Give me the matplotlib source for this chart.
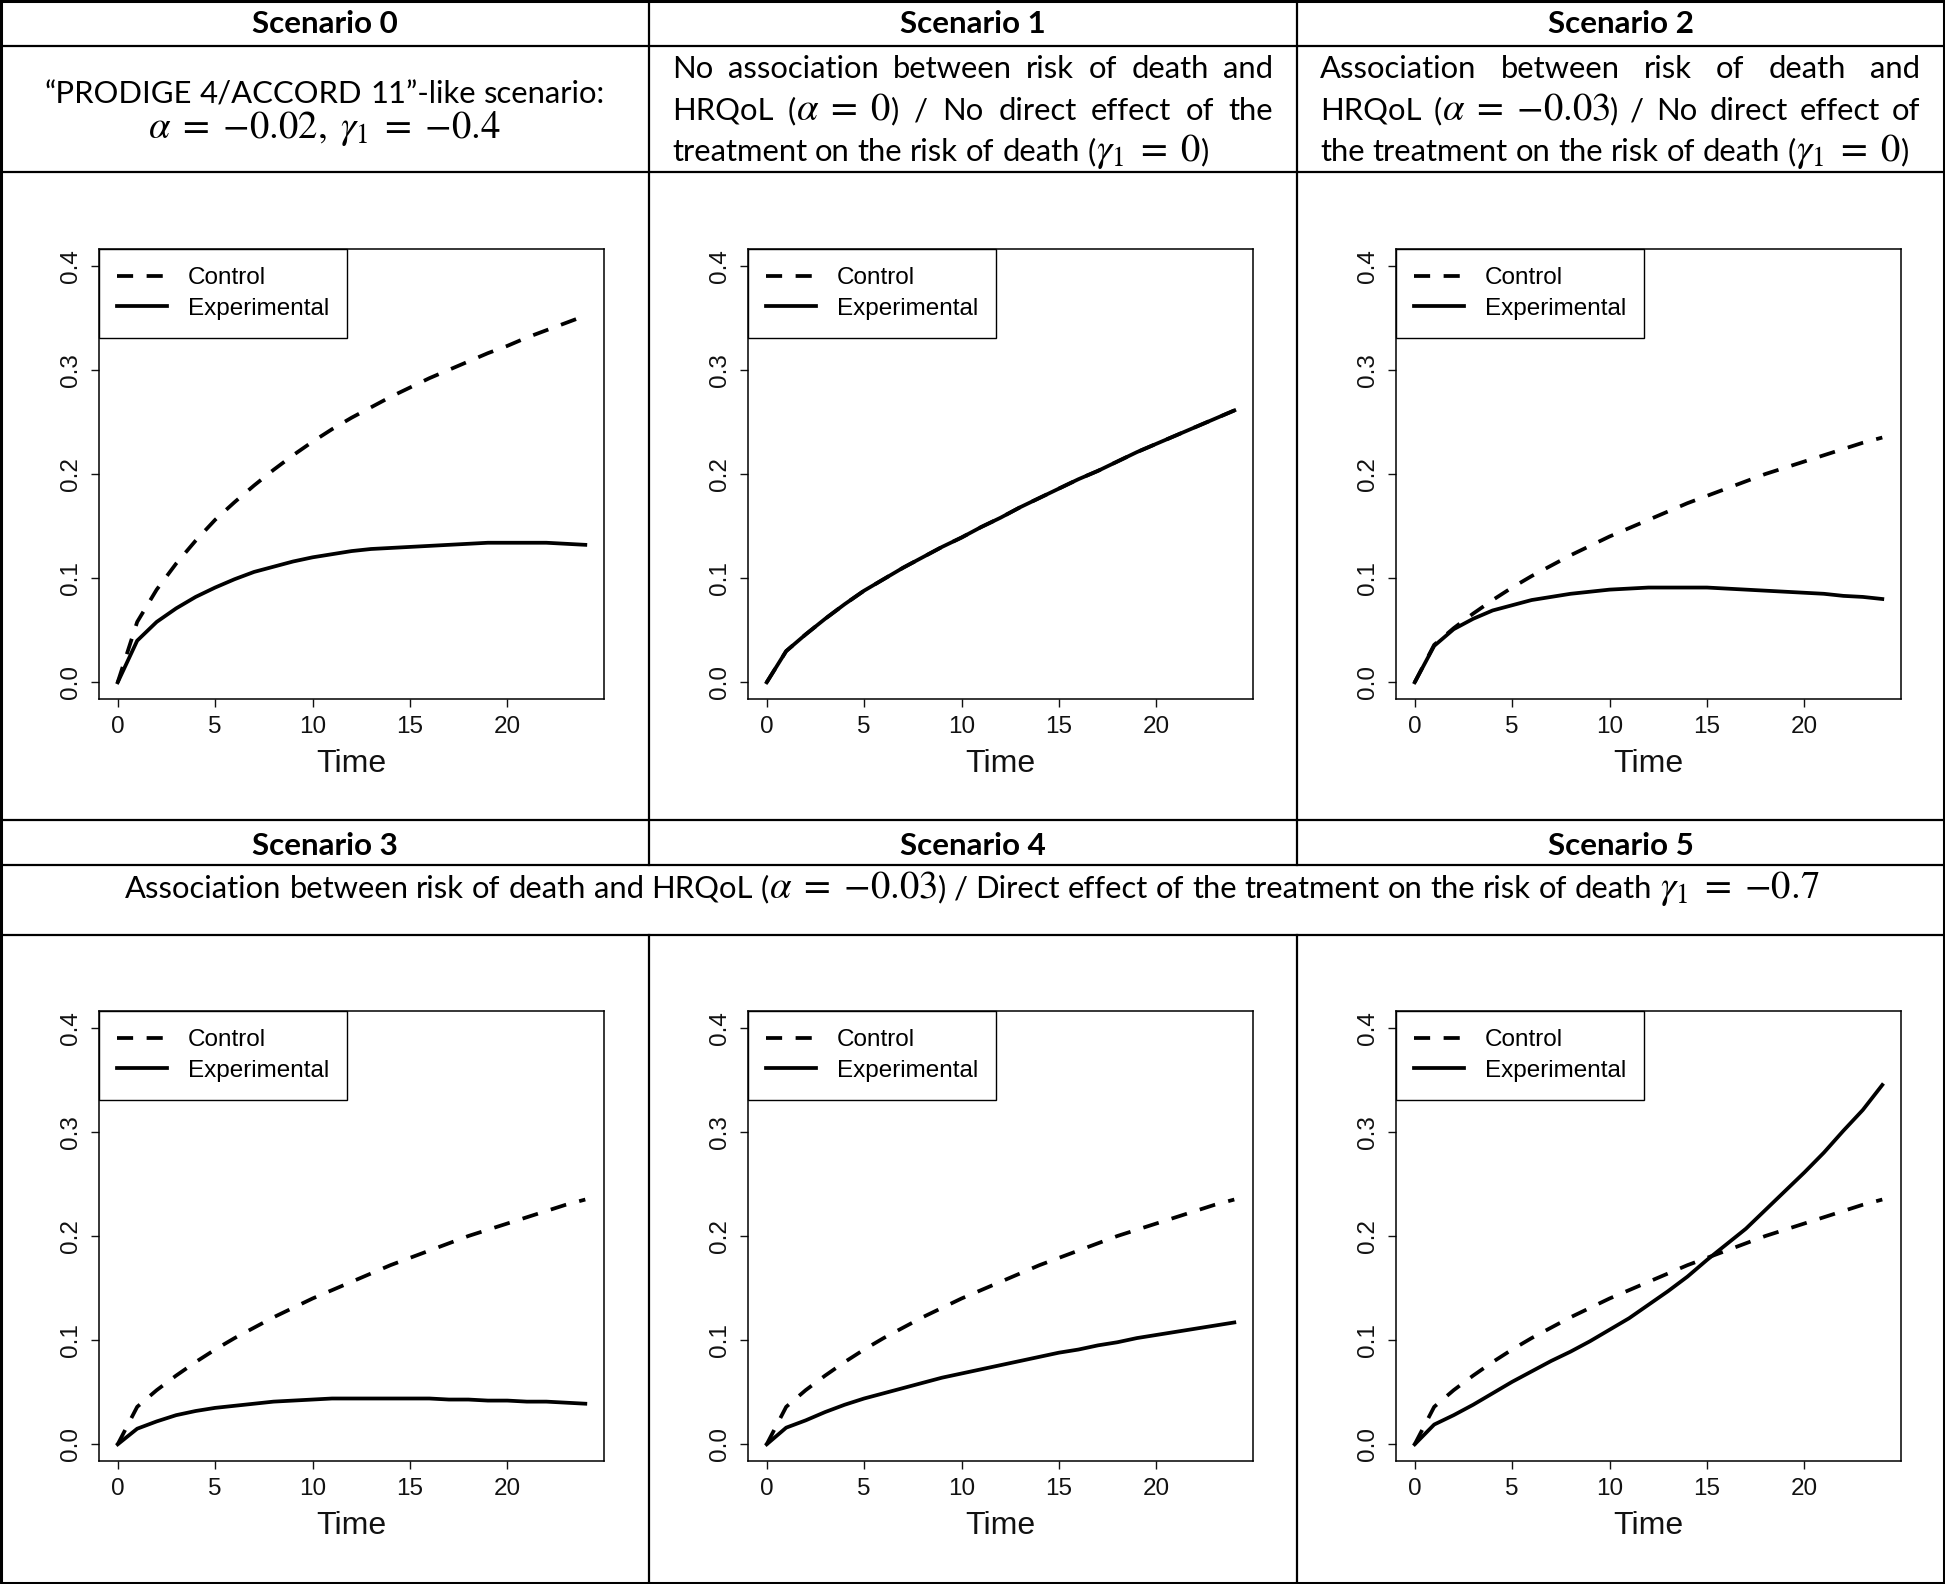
import re
import matplotlib
matplotlib.use("Agg")
import matplotlib.pyplot as plt

plt.rcParams['font.family'] = ['Liberation Sans', 'DejaVu Sans']
plt.rcParams['mathtext.fontset'] = 'stix'

W, H = 1945, 1584

# cumulative incidence of death
time = list(range(25))

control_s0 = [0, 0.058, 0.089, 0.114, 0.136, 0.156, 0.173, 0.189, 0.204, 0.218, 0.231, 0.243, 0.254, 0.264, 0.274, 0.283,
              0.292, 0.300, 0.308, 0.316, 0.323, 0.331, 0.338, 0.345, 0.352]
exper_s0 = [0, 0.040, 0.058, 0.071, 0.082, 0.091, 0.099, 0.106, 0.111, 0.116, 0.120, 0.123, 0.126, 0.128, 0.129, 0.130,
            0.131, 0.132, 0.133, 0.134, 0.134, 0.134, 0.134, 0.133, 0.132]

control_s1 = [0, 0.030, 0.046, 0.061, 0.075, 0.088, 0.099, 0.110, 0.120, 0.130, 0.139, 0.149, 0.158, 0.168, 0.177, 0.186,
              0.195, 0.203, 0.212, 0.221, 0.229, 0.237, 0.245, 0.253, 0.261]
exper_s1 = [0, 0.030, 0.046, 0.061, 0.075, 0.088, 0.099, 0.110, 0.120, 0.130, 0.139, 0.149, 0.158, 0.168, 0.177, 0.186,
            0.195, 0.203, 0.212, 0.221, 0.229, 0.237, 0.245, 0.253, 0.261]

# control arm is the same in scenarios 2 to 5
control_s2 = [0, 0.036, 0.052, 0.066, 0.079, 0.091, 0.102, 0.112, 0.122, 0.131, 0.140, 0.148, 0.156, 0.164, 0.172, 0.179,
              0.186, 0.193, 0.200, 0.206, 0.212, 0.218, 0.224, 0.230, 0.235]
exper_s2 = [0, 0.035, 0.051, 0.061, 0.069, 0.074, 0.079, 0.082, 0.085, 0.087, 0.089, 0.090, 0.091, 0.091, 0.091, 0.091,
            0.090, 0.089, 0.088, 0.087, 0.086, 0.085, 0.083, 0.082, 0.080]
exper_s3 = [0, 0.015, 0.022, 0.028, 0.032, 0.035, 0.037, 0.039, 0.041, 0.042, 0.043, 0.044, 0.044, 0.044, 0.044, 0.044,
            0.044, 0.043, 0.043, 0.042, 0.042, 0.041, 0.041, 0.040, 0.039]
exper_s4 = [0, 0.016, 0.023, 0.031, 0.038, 0.044, 0.049, 0.054, 0.059, 0.064, 0.068, 0.072, 0.076, 0.080, 0.084, 0.088,
            0.091, 0.095, 0.098, 0.102, 0.105, 0.108, 0.111, 0.114, 0.117]
exper_s5 = [0, 0.019, 0.028, 0.038, 0.049, 0.060, 0.070, 0.080, 0.089, 0.099, 0.110, 0.121, 0.134, 0.147, 0.161, 0.177,
            0.192, 0.207, 0.225, 0.243, 0.261, 0.280, 0.301, 0.321, 0.345]

controls = [control_s0, control_s1, control_s2, control_s2, control_s2, control_s2]
experimentals = [exper_s0, exper_s1, exper_s2, exper_s3, exper_s4, exper_s5]

titles = ['Scenario 0', 'Scenario 1', 'Scenario 2', 'Scenario 3', 'Scenario 4', 'Scenario 5']
desc_s0 = ['\u201cPRODIGE 4/ACCORD 11\u201d-like scenario:',
           r'$\alpha\;=\;{-0.02},\;\gamma_1\;=\;{-0.4}$']
desc_s1 = ['No association between risk of death and',
           r'HRQoL ($\alpha\;=\;0$) / No direct effect of the',
           r'treatment on the risk of death ($\gamma_1\;=\;0$)']
desc_s2 = ['Association between risk of death and',
           r'HRQoL ($\alpha\;=\;{-0.03}$) / No direct effect of',
           r'the treatment on the risk of death ($\gamma_1\;=\;0$)']
desc_s345 = (r'Association between risk of death and HRQoL ($\alpha\;=\;{-0.03}$) / '
             r'Direct effect of the treatment on the risk of death $\gamma_1\;=\;{-0.7}$')

xticks = [0, 5, 10, 15, 20]
yticks = [0.0, 0.1, 0.2, 0.3, 0.4]

fig = plt.figure(figsize=(W / 100, H / 100), dpi=100)
bg = fig.add_axes([0, 0, 1, 1])
bg.set_xlim(0, W)
bg.set_ylim(H, 0)
bg.axis('off')
renderer = fig.canvas.get_renderer()

# table grid
col_x = [0, 649, 1297, 1945]
lw_grid = 1.6
bg.plot([1, W - 1, W - 1, 1, 1], [1, 1, H - 1, H - 1, 1], color='black', lw=2.2)
for yy in [46, 172, 820, 865, 935]:
    bg.plot([0, W], [yy, yy], color='black', lw=lw_grid)
for xx in col_x[1:3]:
    bg.plot([xx, xx], [0, 865], color='black', lw=lw_grid)
    bg.plot([xx, xx], [935, H], color='black', lw=lw_grid)

tfont = 'Lato'
math_scale = 1.25


def width_of(s, size, weight='normal'):
    t = bg.text(0, 0, s, fontsize=size, fontweight=weight, family=tfont)
    w = t.get_window_extent(renderer).width
    t.remove()
    return w


head_size = 22 * 146 / width_of('Scenario 0', 22, 'bold')
desc_size = 20 * 630 / width_of('Association between risk of death and HRQoL', 20)
space_w = width_of('n n', desc_size) - width_of('nn', desc_size)


def rich_line(line, yb, x0=None, x1=None, xc=None, justify=False):
    words = re.findall(r'(?:\$[^$]*\$|\S)+', line)
    items = []
    for w in words:
        segs = []
        for seg in re.split(r'(\$[^$]*\$)', w):
            if not seg:
                continue
            sz = desc_size * math_scale if seg.startswith('$') else desc_size
            t = bg.text(0, yb, seg, fontsize=sz, family=tfont, ha='left', va='baseline')
            segs.append((t, t.get_window_extent(renderer).width))
        items.append(segs)
    widths = [sum(w for _, w in segs) for segs in items]
    if justify:
        gap = (x1 - x0 - sum(widths)) / (len(items) - 1)
        x = x0
    else:
        gap = space_w
        total = sum(widths) + gap * (len(items) - 1)
        x = x0 if xc is None else xc - total / 2
    for segs, wd in zip(items, widths):
        xx = x
        for t, w in segs:
            t.set_x(xx)
            xx += w
        x += wd + gap


# headers
for k in range(6):
    c = k % 3
    xc = (col_x[c] + col_x[c + 1]) / 2
    yb = 33 if k < 3 else 855
    bg.text(xc, yb, titles[k], fontsize=head_size, fontweight='bold', family=tfont,
            ha='center', va='baseline')

xc0 = (col_x[0] + col_x[1]) / 2
rich_line(desc_s0[0], 103, xc=xc0)
rich_line(desc_s0[1], 138, xc=xc0)
for lines, x0, x1 in [(desc_s1, 672, 1273), (desc_s2, 1320, 1920)]:
    for i, (line, yb) in enumerate(zip(lines, [78, 120, 161])):
        rich_line(line, yb, x0=x0, x1=x1, justify=(i < len(lines) - 1))
rich_line(desc_s345, 898, xc=W / 2)

# plots
axes_top = [249, 1011]
axes_h = 450
axes_w = 505
for k in range(6):
    r, c = divmod(k, 3)
    left = col_x[c] + 99
    top = axes_top[r]
    ax = fig.add_axes([left / W, 1 - (top + axes_h) / H, axes_w / W, axes_h / H])
    ax.plot(time, controls[k], color='black', lw=2.7, ls=(0, (4.3, 3.6)), label='Control')
    ax.plot(time, experimentals[k], color='black', lw=2.7, ls='-', label='Experimental')
    ax.set_xlim(-0.96, 24.96)
    ax.set_ylim(-0.016, 0.416)
    ax.set_xticks(xticks)
    ax.set_xticklabels([str(v) for v in xticks])
    ax.set_yticks(yticks)
    ax.set_yticklabels(['%.1f' % v for v in yticks], rotation=90, va='center')
    ax.tick_params(length=6, width=1, labelsize=17.5, pad=6, colors='#111111')
    for s in ax.spines.values():
        s.set_linewidth(1.1)
    ax.set_xlabel('Time', fontsize=23, labelpad=8, color='#111111')
    leg = ax.legend(loc='upper left', bbox_to_anchor=(0, 1), borderaxespad=0, fancybox=False,
                    edgecolor='black', framealpha=1, fontsize=17.5, handlelength=2.05,
                    handletextpad=0.85, borderpad=0.75, labelspacing=0.35)
    leg.get_frame().set_linewidth(1.0)

fig.savefig('out.png', dpi=100)
